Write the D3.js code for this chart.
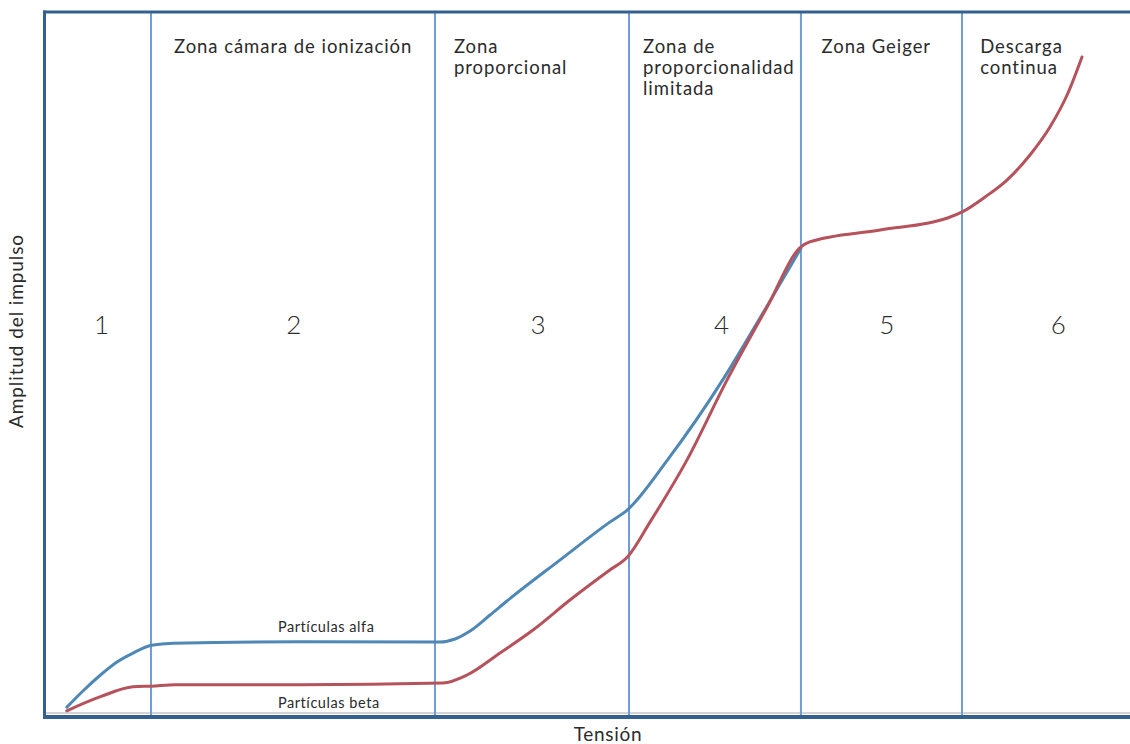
<!DOCTYPE html>
<html>
<head>
<meta charset="utf-8">
<script src="https://cdn.jsdelivr.net/npm/d3@7"></script>
<style>
  html, body { margin: 0; padding: 0; background: #fff; }
  svg { display: block; }
  text { font-family: Lato, "Open Sans", sans-serif; fill: #2b2b2b; }
</style>
</head>
<body>
<svg id="chart" width="1130" height="744"></svg>
<script>
// ---- data (arbitrary units: Tensión 0..100, Amplitud 0..100) ----
const dividers = [9.85, 36.0, 53.87, 69.7, 84.53];

const zoneNumbers = ["1", "2", "3", "4", "5", "6"];
const zoneNumberX = [5.3, 23.0, 45.5, 62.4, 77.6, 93.4];

const zoneTitles = [
  ["Zona cámara de ionización"],
  ["Zona", "proporcional"],
  ["Zona de", "proporcionalidad", "limitada"],
  ["Zona Geiger"],
  ["Descarga", "continua"]
];
const zoneTitleX = [11.97, 37.75, 55.16, 71.6, 86.2];

const alfaTension = [2.1, 3.68, 5.2, 6.72, 8.2, 9.9, 11.9, 23.6, 36.46, 37.85, 39.23, 41.07, 42.63, 47.5, 52.1, 53.7, 57.4, 62.5, 66.2, 69.7];
const alfaAmplitud = [1.1, 3.55, 5.68, 7.53, 8.8, 9.9, 10.2, 10.4, 10.37, 10.8, 11.93, 14.2, 16.19, 22.0, 27.4, 29.1, 36.2, 47.6, 57.1, 66.3];

const betaTension = [2.1, 5.2, 8.2, 9.9, 12.1, 23.6, 36.74, 38.95, 41.99, 45.03, 48.43, 52.1, 53.7, 55.8, 59.2, 62.9, 66.6, 69.7, 70.5, 77.0, 83.2, 84.6, 86.65, 88.67, 90.79, 92.63, 94.29, 95.58];
const betaAmplitud = [0.6, 2.6, 4.0, 4.1, 4.3, 4.3, 4.55, 5.68, 8.81, 12.07, 16.34, 20.6, 22.4, 27.4, 36.2, 47.6, 58.0, 66.5, 67.2, 68.9, 70.6, 71.5, 73.58, 75.99, 79.55, 83.52, 88.35, 93.47];

const seriesLabels = ["Partículas alfa", "Partículas beta"];
const xTitle = "Tensión";
const yTitle = "Amplitud del impulso";

// ---- layout ----
const svg = d3.select("#chart");
const mLeft = 44, mRight = 1130, mTop = 11, mBottom = 715;

const x = d3.scaleLinear().domain([0, 100]).range([mLeft, mRight]);
const y = d3.scaleLinear().domain([0, 100]).range([mBottom, mTop]);

const frameColor = "#34608f";
const dividerColor = "#6d9dd2";
const alfaColor = "#4f87b5";
const betaColor = "#b5525b";

// light gray shadow above bottom axis
svg.append("line")
  .attr("x1", mLeft).attr("x2", mRight)
  .attr("y1", mBottom - 2).attr("y2", mBottom - 2)
  .attr("stroke", "#d4d4d4").attr("stroke-width", 2);

// dividers
svg.append("g").selectAll("line").data(dividers).join("line")
  .attr("x1", d => x(d)).attr("x2", d => x(d))
  .attr("y1", mTop + 1).attr("y2", mBottom + 4)
  .attr("stroke", dividerColor).attr("stroke-width", 2);

// curves
const alfa = alfaTension.map((t, i) => [t, alfaAmplitud[i]]);
const beta = betaTension.map((t, i) => [t, betaAmplitud[i]]);
const lineGen = d3.line().x(d => x(d[0])).y(d => y(d[1])).curve(d3.curveMonotoneX);

svg.append("path").datum(alfa)
  .attr("d", lineGen).attr("fill", "none")
  .attr("stroke", alfaColor).attr("stroke-width", 3)
  .attr("stroke-linecap", "round").attr("stroke-linejoin", "round");
svg.append("path").datum(beta)
  .attr("d", lineGen).attr("fill", "none")
  .attr("stroke", betaColor).attr("stroke-width", 3)
  .attr("stroke-linecap", "round").attr("stroke-linejoin", "round");

// axes (no ticks) as frame
const xAxis = svg.append("g").attr("transform", `translate(0,${mBottom + 1.5})`)
  .call(d3.axisBottom(x).tickValues([]).tickSizeOuter(0));
xAxis.select(".domain").attr("stroke", frameColor).attr("stroke-width", 4);

const yAxis = svg.append("g").attr("transform", `translate(${mLeft},0)`)
  .call(d3.axisLeft(y.copy().range([mBottom + 3.5, mTop - 1])).tickValues([]).tickSizeOuter(0));
yAxis.select(".domain").attr("stroke", frameColor).attr("stroke-width", 3);

const topAxis = svg.append("g").attr("transform", `translate(0,${mTop + 0.5})`)
  .call(d3.axisTop(x.copy().range([mLeft - 1.5, mRight])).tickValues([]).tickSizeOuter(0));
topAxis.select(".domain").attr("stroke", frameColor).attr("stroke-width", 3);

// zone titles
zoneTitles.forEach((lines, i) => {
  const t = svg.append("text")
    .attr("x", x(zoneTitleX[i])).attr("y", 53)
    .attr("font-size", 18.5).attr("letter-spacing", 0.95);
  lines.forEach((s, j) => {
    t.append("tspan").attr("x", x(zoneTitleX[i])).attr("y", 53 + j * 21).text(s);
  });
});

// zone numbers
svg.append("g").selectAll("text").data(zoneNumbers).join("text")
  .attr("x", (d, i) => x(zoneNumberX[i])).attr("y", 334)
  .attr("text-anchor", "middle").attr("font-size", 26).attr("font-weight", 300)
  .text(d => d);

// series labels
svg.append("text").attr("x", 278).attr("y", 632).attr("font-size", 14.5)
  .attr("letter-spacing", 0.55).text(seriesLabels[0]);
svg.append("text").attr("x", 278).attr("y", 708).attr("font-size", 14.5)
  .attr("letter-spacing", 0.55).text(seriesLabels[1]);

// axis titles
svg.append("text").attr("x", 608).attr("y", 741)
  .attr("text-anchor", "middle").attr("font-size", 19).attr("letter-spacing", 0.7).text(xTitle);
svg.append("text")
  .attr("transform", "translate(23,331) rotate(-90)")
  .attr("text-anchor", "middle").attr("font-size", 19).attr("letter-spacing", 0.9).text(yTitle);
</script>
</body>
</html>
